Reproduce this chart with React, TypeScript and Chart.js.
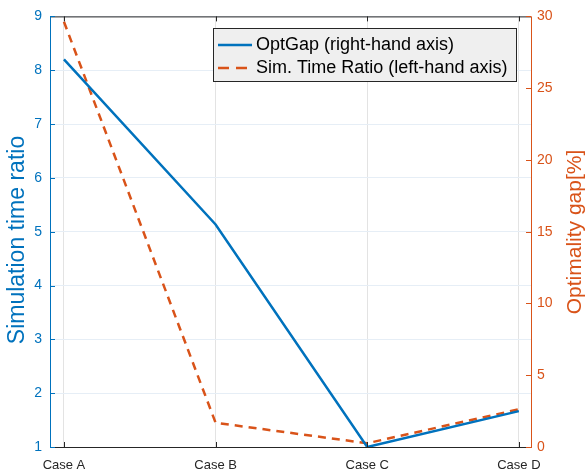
import React, { useEffect, useRef } from "react";
import { Chart, registerables } from "chart.js";

Chart.register(...registerables);

const categories = ["Case A", "Case B", "Case C", "Case D"];
const optGap = [27.0, 15.5, 0.0, 2.5]; // right-hand axis (%)
const simTimeRatio = [8.9, 1.45, 1.07, 1.7]; // left-hand axis
const leftTicks = [1, 2, 3, 4, 5, 6, 7, 8, 9];
const rightTicks = [0, 5, 10, 15, 20, 25, 30];

const BLUE = "#0072BD";
const ORANGE = "#D95319";
const DARK = "#262626";
const FONT = "'Liberation Sans', Arial, Helvetica, sans-serif";

const CA = { left: 50, right: 531, top: 14, bottom: 447 };

const decor = {
  id: "decor",
  afterDraw(chart: any) {
    const ctx = chart.ctx;
    const x = chart.scales.x;
    const yl = chart.scales.y;
    const yr = chart.scales.y1;
    const { left, right, top, bottom } = chart.chartArea;
    ctx.save();
    ctx.strokeStyle = DARK;
    ctx.lineWidth = 1;
    ctx.beginPath();
    ctx.moveTo(left, top + 0.5);
    ctx.lineTo(right, top + 0.5);
    ctx.moveTo(left, bottom + 0.5);
    ctx.lineTo(right, bottom + 0.5);
    ctx.stroke();
    for (let i = 0; i < categories.length; i++) {
      const px = Math.round(x.getPixelForValue(i)) + 0.5;
      ctx.beginPath();
      ctx.moveTo(px, bottom);
      ctx.lineTo(px, bottom - 5);
      ctx.moveTo(px, top);
      ctx.lineTo(px, top + 5);
      ctx.stroke();
    }
    ctx.strokeStyle = BLUE;
    ctx.beginPath();
    ctx.moveTo(left + 0.5, top);
    ctx.lineTo(left + 0.5, bottom + 1);
    for (const v of leftTicks) {
      const py = Math.round(yl.getPixelForValue(v)) + 0.5;
      ctx.moveTo(left, py);
      ctx.lineTo(left + 5, py);
    }
    ctx.stroke();
    ctx.strokeStyle = ORANGE;
    ctx.beginPath();
    ctx.moveTo(right + 0.5, top);
    ctx.lineTo(right + 0.5, bottom + 1);
    for (const v of rightTicks) {
      const py = Math.round(yr.getPixelForValue(v)) + 0.5;
      ctx.moveTo(right, py);
      ctx.lineTo(right - 5, py);
    }
    ctx.stroke();
    // axis titles
    ctx.textAlign = "center";
    ctx.textBaseline = "middle";
    ctx.fillStyle = BLUE;
    ctx.font = `23px ${FONT}`;
    ctx.save();
    ctx.translate(18, 240);
    ctx.rotate(-Math.PI / 2);
    ctx.fillText("Simulation time ratio", 0, 0);
    ctx.restore();
    ctx.fillStyle = ORANGE;
    ctx.font = `21px ${FONT}`;
    ctx.save();
    ctx.translate(575, 232);
    ctx.rotate(-Math.PI / 2);
    ctx.fillText("Optimality gap[%]", 0, 0);
    ctx.restore();
    // legend
    const lx = 213, ly = 28, lw = 303, lh = 53;
    ctx.fillStyle = "#efefef";
    ctx.fillRect(lx, ly, lw, lh);
    ctx.strokeStyle = DARK;
    ctx.lineWidth = 1;
    ctx.strokeRect(lx + 0.5, ly + 0.5, lw, lh);
    const rows = [
      { label: "OptGap (right-hand axis)", color: BLUE, dash: [] as number[], y: 45 },
      { label: "Sim. Time Ratio (left-hand axis)", color: ORANGE, dash: [11, 7], y: 68 },
    ];
    for (const r of rows) {
      ctx.strokeStyle = r.color;
      ctx.lineWidth = 2.5;
      ctx.setLineDash(r.dash);
      ctx.beginPath();
      ctx.moveTo(218, r.y);
      ctx.lineTo(252, r.y);
      ctx.stroke();
      ctx.setLineDash([]);
      ctx.fillStyle = "#000";
      ctx.font = `18px ${FONT}`;
      ctx.textAlign = "left";
      ctx.textBaseline = "middle";
      ctx.fillText(r.label, 256, r.y);
    }
    ctx.restore();
  },
};

export default function App() {
  const ref = useRef<HTMLCanvasElement>(null);
  useEffect(() => {
    document.body.style.margin = "0";
    const chart = new Chart(ref.current!, {
      type: "line",
      data: {
        datasets: [
          {
            label: "OptGap (right-hand axis)",
            data: optGap.map((v, i) => ({ x: i, y: v })),
            borderColor: BLUE,
            borderWidth: 2.5,
            pointRadius: 0,
            yAxisID: "y1",
            tension: 0,
          },
          {
            label: "Sim. Time Ratio (left-hand axis)",
            data: simTimeRatio.map((v, i) => ({ x: i, y: v })),
            borderColor: ORANGE,
            borderWidth: 2.5,
            borderDash: [8, 6],
            pointRadius: 0,
            yAxisID: "y",
            tension: 0,
          },
        ],
      },
      options: {
        animation: false,
        responsive: false,
        layout: { padding: { top: CA.top, left: 0, right: 0, bottom: 0 } },
        plugins: { legend: { display: false }, tooltip: { enabled: false } },
        scales: {
          x: {
            type: "linear",
            min: -0.092,
            max: 3.08,
            afterBuildTicks: (s: any) => {
              s.ticks = categories.map((_, i) => ({ value: i }));
            },
            afterFit: (s: any) => {
              s.height = 472 - CA.bottom;
            },
            grid: { color: "#e3e3e3", drawTicks: false, lineWidth: 1 },
            border: { display: false },
            ticks: {
              color: DARK,
              font: { family: FONT, size: 13 },
              padding: 11,
              maxRotation: 0,
              autoSkip: false,
              callback: (v: any) => categories[v] ?? "",
            },
          },
          y: {
            position: "left",
            min: 1,
            max: 9,
            afterBuildTicks: (s: any) => {
              s.ticks = leftTicks.map((v) => ({ value: v }));
            },
            afterFit: (s: any) => {
              s.width = CA.left;
            },
            grid: { color: "#e6eef6", drawTicks: false },
            border: { display: false },
            ticks: {
              color: BLUE,
              font: { family: FONT, size: 14 },
              padding: 8,
            },
          },
          y1: {
            position: "right",
            min: 0,
            max: 30,
            afterBuildTicks: (s: any) => {
              s.ticks = rightTicks.map((v) => ({ value: v }));
            },
            afterFit: (s: any) => {
              s.width = 587 - CA.right;
            },
            grid: { display: false, drawTicks: false },
            border: { display: false },
            ticks: {
              color: ORANGE,
              font: { family: FONT, size: 14 },
              padding: 6,
            },
          },
        },
      },
      plugins: [decor],
    } as any);
    return () => chart.destroy();
  }, []);
  return (
    <div style={{ width: 587, height: 472, background: "#fff" }}>
      <canvas ref={ref} width={587} height={472} style={{ display: "block" }} />
    </div>
  );
}
